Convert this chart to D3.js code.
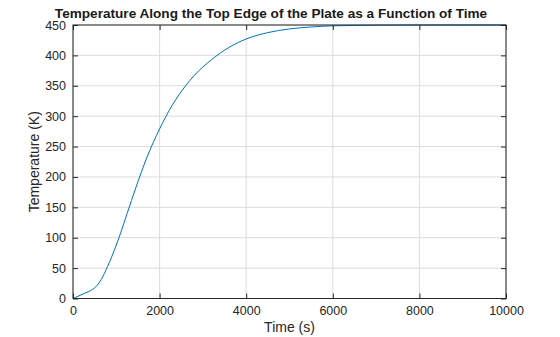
<!DOCTYPE html>
<html>
<head>
<style>
  body { margin: 0; background: #fff; overflow: hidden; }
  text { font-family: "Liberation Sans", Arial, sans-serif; fill: #262626; }
  .title { font-size: 13.6px; font-weight: bold; fill: #1a1a1a; }
  .lab { font-size: 14px; }
</style>
<script src="https://d3js.org/d3.v7.min.js"></script>
</head>
<body>
<svg width="560" height="337"></svg>
<script>
// time (s) and temperature (K)
var times = [0, 250, 450, 550, 650, 800, 1000, 1100, 1250, 1450, 1700, 2000, 2300, 2600, 2800, 3200, 3600, 4000, 4500, 5000, 5500, 6000, 7000, 8000, 9000, 10000];
var temps = [0, 8, 15, 21, 31, 53, 88, 108, 140, 182, 231, 279, 319, 350, 367, 393, 413, 427, 437.5, 443.5, 446.8, 448.6, 449.7, 450, 450, 450];
var xTicks = [0, 2000, 4000, 6000, 8000, 10000];
var yTicks = [0, 50, 100, 150, 200, 250, 300, 350, 400, 450];

var svg = d3.select("svg");
var mLeft = 73, mRight = 506, mTop = 25, mBottom = 298.5;

var x = d3.scaleLinear().domain([0, 10000]).range([mLeft, mRight]);
var y = d3.scaleLinear().domain([0, 450]).range([mBottom, mTop]);

// grid
svg.append("g").selectAll("line").data(xTicks).enter().append("line")
  .attr("x1", function (d) { return x(d); }).attr("x2", function (d) { return x(d); })
  .attr("y1", mTop).attr("y2", mBottom)
  .attr("stroke", "#dcdcdc").attr("stroke-width", 1);
svg.append("g").selectAll("line").data(yTicks).enter().append("line")
  .attr("y1", function (d) { return y(d); }).attr("y2", function (d) { return y(d); })
  .attr("x1", mLeft).attr("x2", mRight)
  .attr("stroke", "#dcdcdc").attr("stroke-width", 1);

// curve
var data = times.map(function (t, i) { return [t, temps[i]]; });
var line = d3.line()
  .x(function (d) { return x(d[0]); })
  .y(function (d) { return y(d[1]); })
  .curve(d3.curveMonotoneX);
svg.append("path").datum(data)
  .attr("d", line)
  .attr("fill", "none")
  .attr("stroke", "#0072BD")
  .attr("stroke-width", 1);

// axes (ticks pointing inwards)
function styleAxis(g) {
  g.select(".domain").remove();
  g.selectAll(".tick line").attr("stroke", "#262626");
  g.selectAll(".tick text").attr("fill", "#262626").style("font-size", "12.5px");
}
svg.append("g").attr("transform", "translate(0," + mBottom + ")")
  .call(d3.axisBottom(x).tickValues(xTicks).tickFormat(d3.format("d")).tickSizeInner(-5).tickSizeOuter(0).tickPadding(8))
  .call(styleAxis);
svg.append("g").attr("transform", "translate(0," + mTop + ")")
  .call(d3.axisTop(x).tickValues(xTicks).tickFormat("").tickSizeInner(-5).tickSizeOuter(0))
  .call(styleAxis);
svg.append("g").attr("transform", "translate(" + mLeft + ",0)")
  .call(d3.axisLeft(y).tickValues(yTicks).tickFormat(d3.format("d")).tickSizeInner(-5).tickSizeOuter(0).tickPadding(7))
  .call(styleAxis);
svg.append("g").attr("transform", "translate(" + mRight + ",0)")
  .call(d3.axisRight(y).tickValues(yTicks).tickFormat("").tickSizeInner(-5).tickSizeOuter(0))
  .call(styleAxis);

svg.append("rect")
  .attr("x", mLeft).attr("y", mTop)
  .attr("width", mRight - mLeft).attr("height", mBottom - mTop)
  .attr("fill", "none").attr("stroke", "#262626").attr("stroke-width", 1);

// labels
svg.append("text").attr("class", "title")
  .attr("x", 271).attr("y", 17.5).attr("text-anchor", "middle")
  .text("Temperature Along the Top Edge of the Plate as a Function of Time");
svg.append("text").attr("class", "lab")
  .attr("x", (mLeft + mRight) / 2).attr("y", 332).attr("text-anchor", "middle")
  .text("Time (s)");
svg.append("text").attr("class", "lab")
  .attr("transform", "translate(39," + ((mTop + mBottom) / 2) + ") rotate(-90)")
  .attr("text-anchor", "middle")
  .text("Temperature (K)");
</script>
</body>
</html>
